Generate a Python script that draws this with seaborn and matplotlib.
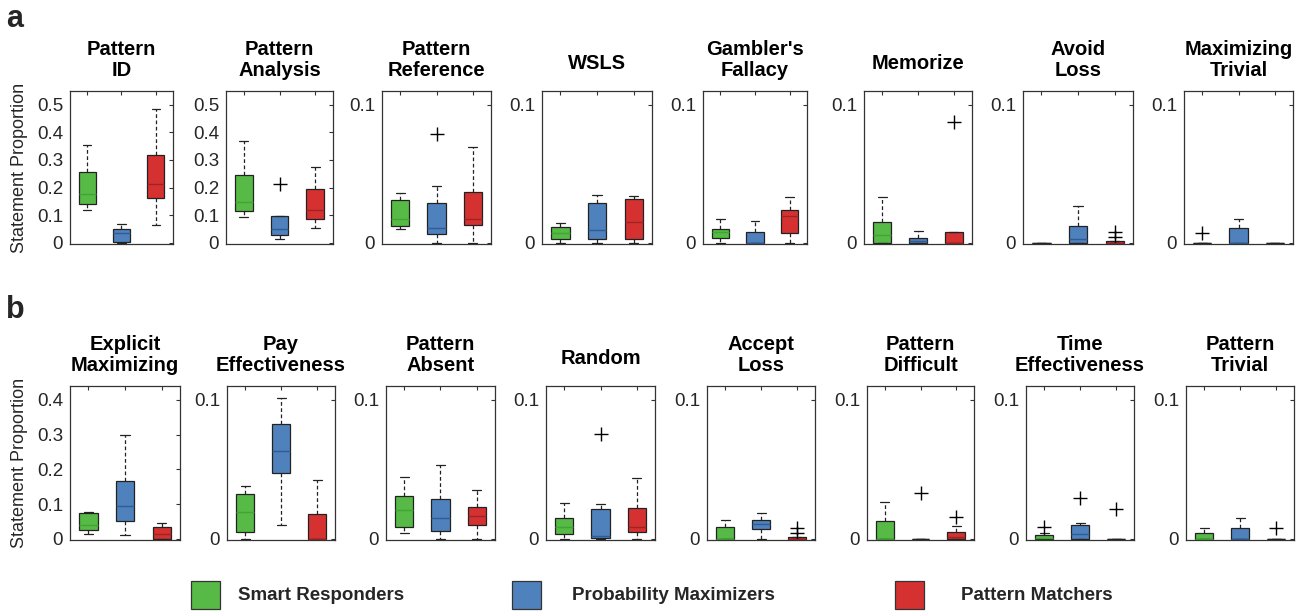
import numpy as np
import pandas as pd
import matplotlib
matplotlib.use("Agg")
import matplotlib.pyplot as plt
import seaborn as sns
from matplotlib.patches import Rectangle
from matplotlib import font_manager

# ---------------- data ----------------
GROUPS = ["Smart Responders", "Probability Maximizers", "Pattern Matchers"]
COLORS = ["#57BA46", "#4F81BD", "#D53131"]
MEDIAN_COLORS = ["#3FA535", "#2E5C94", "#9E2424"]

TITLES_A = ["Pattern\nID", "Pattern\nAnalysis", "Pattern\nReference", "WSLS",
            "Gambler's\nFallacy", "Memorize", "Avoid\nLoss", "Maximizing\nTrivial"]
TITLES_B = ["Explicit\nMaximizing", "Pay\nEffectiveness", "Pattern\nAbsent", "Random",
            "Accept\nLoss", "Pattern\nDifficult", "Time\nEffectiveness", "Pattern\nTrivial"]

# box statistics per panel: [green, blue, red]
LOW_A = [[0.120, 0.000, 0.066], [0.093, 0.012, 0.054], [0.0099, 0.0, 0.0], [0, 0, 0],
         [0, 0, 0], [0, 0, 0], [0, 0, 0], [0, 0, 0]]
Q1_A = [[0.142, 0.003, 0.163], [0.114, 0.028, 0.087], [0.0121, 0.0063, 0.0131],
        [0.0024, 0.0024, 0.0024], [0.0036, 0.0, 0.0072], [0, 0, 0], [0, 0, 0], [0, 0, 0]]
MED_A = [[0.178, 0.034, 0.214], [0.148, 0.051, 0.117], [0.0172, 0.0104, 0.0169],
         [0.0073, 0.0090, 0.0148], [0.0080, 0.0, 0.0193], [0.0060, 0.0010, 0.0],
         [0, 0.0024, 0], [0, 0, 0]]
Q3_A = [[0.257, 0.051, 0.319], [0.247, 0.096, 0.196], [0.0307, 0.0290, 0.0368],
        [0.0116, 0.0290, 0.0315], [0.0101, 0.0077, 0.0241], [0.0152, 0.0036, 0.0075],
        [0, 0.0120, 0.0012], [0, 0.0108, 0]]
HIGH_A = [[0.353, 0.069, 0.484], [0.370, 0.096, 0.275], [0.0358, 0.0414, 0.0692],
          [0.0145, 0.0349, 0.0341], [0.0176, 0.0157, 0.0335], [0.0335, 0.0082, 0.0075],
          [0, 0.0265, 0.0012], [0, 0.0176, 0]]
OUT_A = [[[], [], []], [[], [0.214], []], [[], [0.0787], []], [[], [], []],
         [[], [], []], [[], [], [0.0872]], [[], [], [0.0045, 0.0075]], [[0.0072], [], []]]

LOW_B = [[0.014, 0.0105, 0.0], [0.0, 0.0097, 0.0], [0.0043, 0.0, 0.0], [0, 0, 0],
         [0, 0, 0], [0, 0, 0], [0, 0, 0], [0, 0, 0]]
Q1_B = [[0.024, 0.052, 0.0], [0.0048, 0.0475, 0.0], [0.0086, 0.0057, 0.0098],
        [0.0031, 0.0007, 0.0048], [0, 0.0067, 0], [0, 0, 0], [0, 0, 0], [0, 0, 0]]
MED_B = [[0.039, 0.094, 0.0124], [0.0192, 0.063, 0.0], [0.021, 0.0146, 0.0167],
         [0.0084, 0.0019, 0.0086], [0, 0.0107, 0], [0, 0, 0.001], [0.0008, 0.0033, 0],
         [0, 0, 0]]
Q3_B = [[0.0746, 0.167, 0.0344], [0.0325, 0.0824, 0.018], [0.0306, 0.0285, 0.023],
        [0.0146, 0.0213, 0.022], [0.0086, 0.0138, 0.0012], [0.013, 0, 0.005],
        [0.0024, 0.0097, 0], [0.0043, 0.0076, 0]]
HIGH_B = [[0.0766, 0.300, 0.046], [0.0382, 0.101, 0.0425], [0.0443, 0.0531, 0.0349],
          [0.0258, 0.0249, 0.0435], [0.0133, 0.0183, 0.0012], [0.0264, 0, 0.0095],
          [0.0043, 0.011, 0], [0.0081, 0.0147, 0]]
OUT_B = [[[], [], []], [[], [], []], [[], [], []], [[], [0.0754], []],
         [[], [], [0.004, 0.0076]], [[], [0.0328], [0.0157]],
         [[0.0086], [0.0292], [0.0216]], [[], [], [0.0074]]]

YMAX_A = [0.55, 0.55, 0.11, 0.11, 0.11, 0.11, 0.11, 0.11]
YMAX_B = [0.44, 0.11, 0.11, 0.11, 0.11, 0.11, 0.11, 0.11]


def sample(lo, q1, med, q3, hi, out):
    """Build a sample whose linear quartiles / whiskers / fliers equal the stats."""
    k = len(out)
    j = k + 1
    return [lo] + [q1] * j + [med] * j + [q3] * j + [hi] * (j - k) + sorted(out)


def panel_frame(low, q1, med, q3, high, out):
    rows = []
    for g in range(3):
        for v in sample(low[g], q1[g], med[g], q3[g], high[g], out[g]):
            rows.append((GROUPS[g], v))
    return pd.DataFrame(rows, columns=["group", "value"])


# ---------------- styling ----------------
sns.set_theme(style="white")
names = {f.name for f in font_manager.fontManager.ttflist}
base_font = "Liberation Sans" if "Liberation Sans" in names else "DejaVu Sans"
legend_font = "Liberation Sans Narrow" if "Liberation Sans Narrow" in names else base_font
plt.rcParams["font.family"] = [base_font, "DejaVu Sans"]

W, H = 1306, 613
fig = plt.figure(figsize=(W / 100, H / 100), dpi=100)

LEFT_A = [70, 226, 382, 542, 703, 864, 1023, 1184]
RIGHT_A = [173, 333, 491, 652, 807, 972, 1133, 1293]
LEFT_B = [70, 227, 386, 546, 707, 867, 1026, 1186]
RIGHT_B = [180, 335, 495, 655, 815, 974, 1134, 1294]
ROWS = [
    dict(top=91, bottom=244, lefts=LEFT_A, rights=RIGHT_A, titles=TITLES_A,
         stats=(LOW_A, Q1_A, MED_A, Q3_A, HIGH_A, OUT_A), ymax=YMAX_A),
    dict(top=386, bottom=540, lefts=LEFT_B, rights=RIGHT_B, titles=TITLES_B,
         stats=(LOW_B, Q1_B, MED_B, Q3_B, HIGH_B, OUT_B), ymax=YMAX_B),
]

spine_col = "#333333"
for r, row in enumerate(ROWS):
    for i in range(8):
        l, rt = row["lefts"][i], row["rights"][i]
        ax = fig.add_axes([l / W, 1 - row["bottom"] / H, (rt - l) / W,
                           (row["bottom"] - row["top"]) / H])
        low, q1, med, q3, high, out = (s[i] for s in row["stats"])
        df = panel_frame(low, q1, med, q3, high, out)
        sns.boxplot(data=df, x="group", y="value", hue="group", order=GROUPS,
                    hue_order=GROUPS, palette=COLORS, saturation=1, width=0.5,
                    whis=1.5, linewidth=0.9, linecolor="#222222", fliersize=10,
                    flierprops=dict(marker="+", markeredgecolor="black",
                                    markeredgewidth=1.0),
                    whiskerprops=dict(linestyle=(0, (3, 2))),
                    legend=False, ax=ax)
        for g, (cont, mc) in enumerate(zip(getattr(ax, "containers", []), MEDIAN_COLORS)):
            if hasattr(cont, "medians"):
                flat = q3[g] - q1[g] <= 1e-12
                for m in cont.medians:
                    m.set_color("#222222" if flat else mc)
                    m.set_linewidth(1.0)
        ymax = row["ymax"][i]
        ax.set_ylim(-0.008 * ymax, ymax)
        ax.set_xlim(-0.5, 2.5)
        if ymax > 0.4:
            ticks = np.round(np.arange(0, ymax - 0.02, 0.1), 2)
        else:
            ticks = [0, 0.1]
        ax.set_yticks(ticks)
        ax.set_yticklabels(["0" if t == 0 else f"{t:g}" for t in ticks])
        ax.set_xticks([0, 1, 2])
        ax.set_xticklabels([])
        ax.set_xlabel("")
        ax.tick_params(direction="in", length=3, width=0.8, top=True, right=True,
                       colors=spine_col, labelsize=13.5, pad=5)
        ax.tick_params(axis="y", labelcolor="#262626")
        for sp in ax.spines.values():
            sp.set_visible(True)
            sp.set_color(spine_col)
            sp.set_linewidth(0.9)
        title = row["titles"][i]
        pad = 10.5 if "\n" in title else 15.5
        ax.set_title(title, fontsize=14.5, fontweight="bold", pad=pad,
                     linespacing=1.18, color="black")
        if i == 0:
            ax.set_ylabel("Statement Proportion", fontsize=13, labelpad=6,
                          color="#262626")
        else:
            ax.set_ylabel("")

# panel labels
fig.text(6 / W, 1 - 19 / H, "a", fontsize=22, fontweight="bold", va="center", ha="left")
fig.text(6 / W, 1 - 310 / H, "b", fontsize=22, fontweight="bold", va="center", ha="left")

# legend
SQ_X = [191, 512, 895]
TXT_X = [238, 572, 961]
for g in range(3):
    fig.patches.append(Rectangle((SQ_X[g] / W, 1 - 609 / H), 29 / W, 28 / H,
                                 transform=fig.transFigure, facecolor=COLORS[g],
                                 edgecolor="#333333", linewidth=0.9))
    fig.text(TXT_X[g] / W, 1 - 596 / H, GROUPS[g], fontsize=13.5, fontweight="bold",
             va="center", ha="left", family=[legend_font, base_font])

fig.savefig("out.png", dpi=100)
